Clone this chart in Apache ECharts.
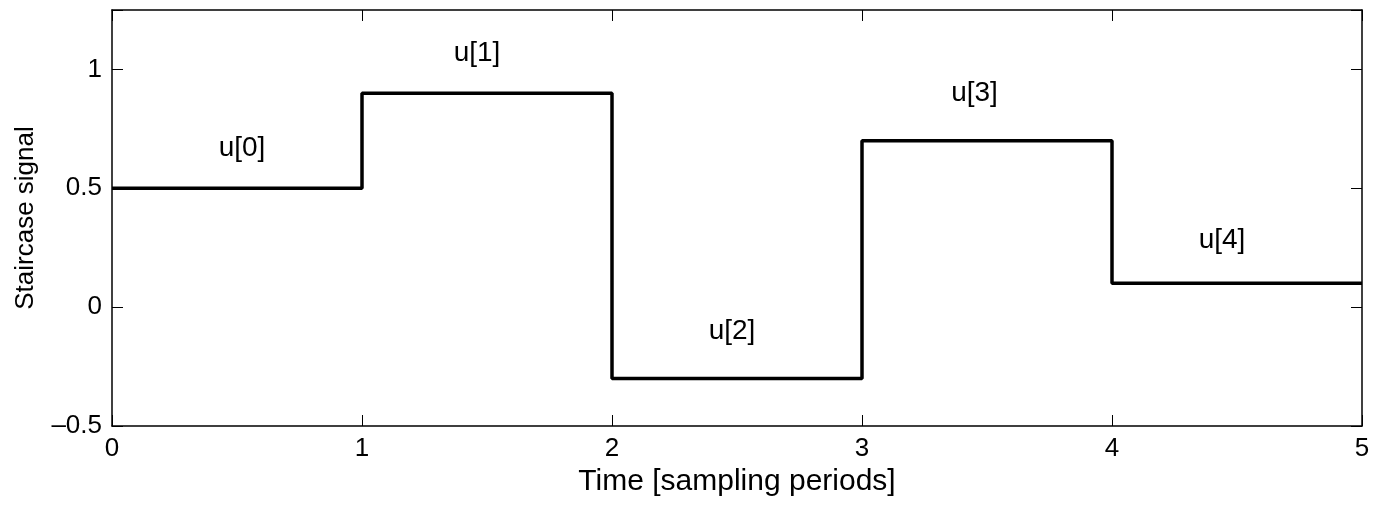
<!DOCTYPE html>
<html>
<head>
<meta charset="utf-8">
<script src="https://cdn.jsdelivr.net/npm/echarts@6/dist/echarts.min.js"></script>
<style>
  html, body { margin: 0; padding: 0; background: #fff; }
  #main { width: 1375px; height: 506px; }
</style>
</head>
<body>
<div id="main"></div>
<script>
// staircase signal: value held over each sampling period
const stepTimes = [0, 1, 2, 3, 4, 5]
const stepValues = [0.5, 0.9, -0.3, 0.7, 0.1, 0.1]

// text labels placed over each step
const labelNames = ['u[0]', 'u[1]', 'u[2]', 'u[3]', 'u[4]']
const labelX = [0.52, 1.46, 2.48, 3.45, 4.44]
const labelY = [0.67, 1.07, -0.10, 0.90, 0.28]

const font = 'Liberation Sans, Arial, Helvetica, sans-serif'
const myChart = echarts.init(document.getElementById('main'))

const fmt = function (v) {
  if (Math.abs(v * 2 - Math.round(v * 2)) > 1e-9 || v > 1.01) return ''
  return String(v).replace('-', '\u2013')
}

const option = {
  animation: false,
  grid: { left: 112, right: 13, top: 10, bottom: 80 },
  xAxis: [
    {
      type: 'value',
      min: 0,
      max: 5,
      interval: 1,
      name: 'Time [sampling periods]',
      nameLocation: 'middle',
      nameGap: 33,
      nameTextStyle: { fontFamily: font, fontSize: 30, color: '#000' },
      axisLine: { show: true, onZero: false, lineStyle: { color: '#000', width: 1.5 } },
      axisTick: { show: true, inside: true, length: 11, lineStyle: { color: '#000' } },
      axisLabel: { fontFamily: font, fontSize: 26, color: '#000', margin: 10 },
      splitLine: { show: false }
    },
    {
      type: 'value',
      position: 'top',
      min: 0,
      max: 5,
      interval: 1,
      axisLine: { show: true, onZero: false, lineStyle: { color: '#000', width: 1.5 } },
      axisTick: { show: true, inside: true, length: 11, lineStyle: { color: '#000' } },
      axisLabel: { show: false },
      splitLine: { show: false }
    }
  ],
  yAxis: [
    {
      type: 'value',
      min: -0.5,
      max: 1.25,
      interval: 0.5,
      name: 'Staircase signal',
      nameLocation: 'middle',
      nameGap: 73,
      nameTextStyle: { fontFamily: font, fontSize: 26, color: '#000' },
      axisLine: { show: true, onZero: false, lineStyle: { color: '#000', width: 1.5 } },
      axisTick: { show: true, inside: true, length: 11, lineStyle: { color: '#000' } },
      axisLabel: { fontFamily: font, fontSize: 26, color: '#000', margin: 10, formatter: fmt },
      splitLine: { show: false }
    },
    {
      type: 'value',
      position: 'right',
      min: -0.5,
      max: 1.25,
      interval: 0.5,
      axisLine: { show: true, onZero: false, lineStyle: { color: '#000', width: 1.5 } },
      axisTick: { show: true, inside: true, length: 11, lineStyle: { color: '#000' } },
      axisLabel: { show: false },
      splitLine: { show: false }
    }
  ],
  series: [
    {
      type: 'line',
      step: 'end',
      symbol: 'none',
      data: stepTimes.map((t, i) => [t, stepValues[i]]),
      lineStyle: { color: '#000', width: 3.5 }
    },
    {
      type: 'scatter',
      symbolSize: 0,
      itemStyle: { opacity: 1 },
      data: labelNames.map((n, i) => ({ name: n, value: [labelX[i], labelY[i]] })),
      label: {
        show: true,
        position: 'inside',
        formatter: '{b}',
        fontFamily: font,
        fontSize: 28,
        color: '#000'
      }
    }
  ]
}
myChart.setOption(option)
</script>
</body>
</html>
